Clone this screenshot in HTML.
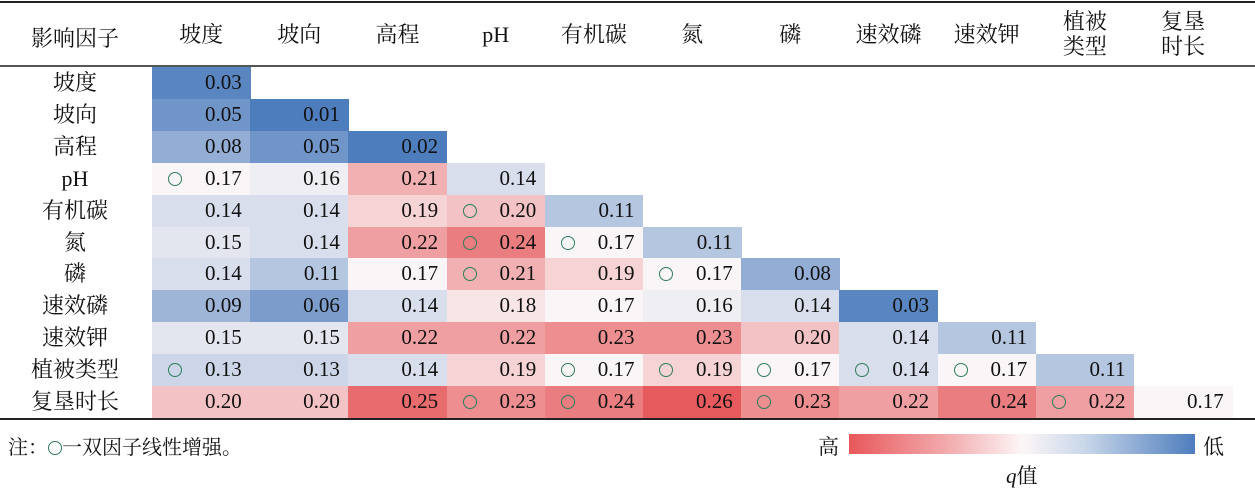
<!DOCTYPE html>
<html><head><meta charset="utf-8"><style>
body{margin:0;background:#fff;width:1255px;height:496px;overflow:hidden;position:relative;font-family:"Liberation Serif","Noto Serif CJK SC",serif;color:#111}
.a{position:absolute}
</style></head><body>
<div class="a" style="left:0;top:1px;width:1255px;height:2px;background:#222"></div>
<div class="a" style="left:0;top:65px;width:1255px;height:2px;background:#555"></div>
<div class="a" style="left:0;top:418px;width:1255px;height:2px;background:#222"></div>
<div id="g"></div>
<div class="a" style="left:8px;top:431px;font-size:20px">注：<span style="display:inline-block;width:12px;height:12px;border:1.3px solid #2e7d5a;border-radius:50%;vertical-align:-1px"></span>一双因子线性增强。</div>
<div class="a" style="left:818px;top:431px;font-size:21px">高</div>
<div class="a" style="left:849px;top:434px;width:346px;height:20px;background:linear-gradient(90deg,#e8585b,#f3b0b2 30%,#fdf6f7 50%,#c9d7ea 68%,#4e7dbd)"></div>
<div class="a" style="left:1203px;top:431px;font-size:21px">低</div>
<div class="a" style="left:1006px;top:460px;font-size:21px"><i>q</i>值</div>
<script>
const factors=["坡度","坡向","高程","pH","有机碳","氮","磷","速效磷","速效钾","植被类型","复垦时长"];
const headers=["坡度","坡向","高程","pH","有机碳","氮","磷","速效磷","速效钾","植被<br>类型","复垦<br>时长"];
const row1=[0.03];
const row2=[0.05,0.01];
const row3=[0.08,0.05,0.02];
const row4=[0.17,0.16,0.21,0.14];
const row5=[0.14,0.14,0.19,0.20,0.11];
const row6=[0.15,0.14,0.22,0.24,0.17,0.11];
const row7=[0.14,0.11,0.17,0.21,0.19,0.17,0.08];
const row8=[0.09,0.06,0.14,0.18,0.17,0.16,0.14,0.03];
const row9=[0.15,0.15,0.22,0.22,0.23,0.23,0.20,0.14,0.11];
const row10=[0.13,0.13,0.14,0.19,0.17,0.19,0.17,0.14,0.17,0.11];
const row11=[0.20,0.20,0.25,0.23,0.24,0.26,0.23,0.22,0.24,0.22,0.17];
const values=[row1,row2,row3,row4,row5,row6,row7,row8,row9,row10,row11];
const enhanced=[[],[],[],[0],[3],[3,4],[3,5],[],[],[0,4,5,6,7,8],[3,4,6,9]];
const g=document.getElementById('g');
const X0=152,CW=98.2,Y0=67,RH=31.9;
const xs=i=>X0+i*CW, ys=i=>Y0+i*RH;
function color(v){
  const b=[78,125,189],r=[230,90,93],w=[250,246,247];
  let c,t;
  if(v<=0.17){t=Math.min(1,(0.17-v)/0.15);c=b;}else{t=Math.min(1,(v-0.17)/0.09);c=r;}
  const m=w.map((x,k)=>Math.round(x+(c[k]-x)*t));
  return `rgb(${m})`;
}
function add(html,style,name){const d=document.createElement('div');d.className='a';d.innerHTML=html;d.style.cssText=style;


g.appendChild(d);return d;}
add('影响因子','left:0;top:22px;width:150px;text-align:center;font-size:22px','header-factor');
headers.forEach((h,i)=>{const two=h.includes('<br>');
add(h,`left:${xs(i)}px;top:${two?9:22}px;width:${CW}px;text-align:center;font-size:22px;line-height:25px`,'column-header');});
factors.forEach((f,r)=>{
add(f,`left:0;top:${ys(r)+3}px;width:150px;text-align:center;font-size:22px;line-height:26px`,'row-label');
values[r].forEach((v,c)=>{
 const circ=enhanced[r].includes(c)?`<span style="position:absolute;left:16px;top:9px;width:12px;height:12px;border:1.3px solid #2e7d5a;border-radius:50%"></span>`:'';
 add(circ+`<span style="position:absolute;right:9px;top:3px">${v.toFixed(2)}</span>`,
 `left:${xs(c)}px;top:${ys(r)}px;width:${CW+0.5}px;height:${RH+0.5}px;background:${color(v)};font-size:21px`,'heatmap-cell');
});});
</script>
</body></html>
